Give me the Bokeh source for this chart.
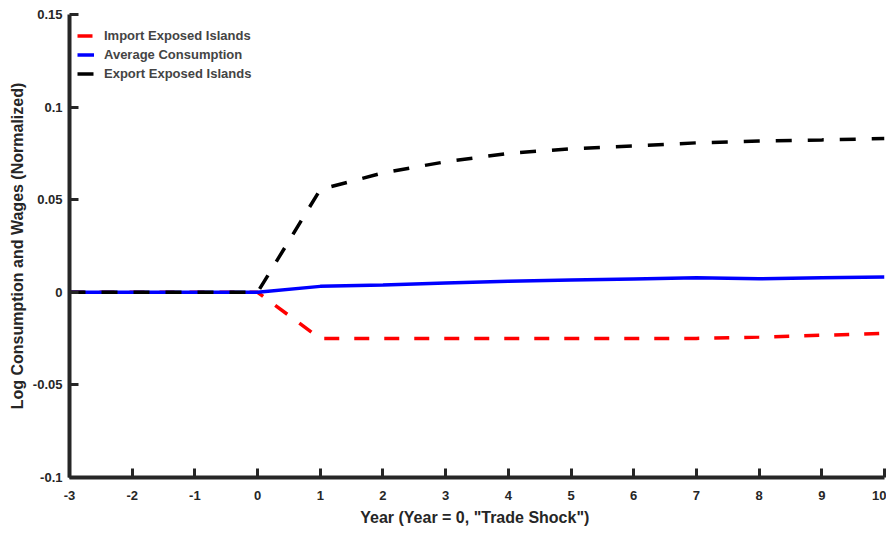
from bokeh.plotting import figure
from bokeh.models import Range1d, FixedTicker, Legend, LegendItem
from bokeh.embed import file_html
from bokeh.resources import INLINE

years = [-3, -2, -1, 0, 1, 2, 3, 4, 5, 6, 7, 8, 9, 10]
import_exposed = [0, 0, 0, 0, -0.025, -0.025, -0.025, -0.025, -0.025, -0.025, -0.0249, -0.0242, -0.0232, -0.0222]
average_cons = [0, 0, 0, 0, 0.0032, 0.0040, 0.0050, 0.0059, 0.0066, 0.0072, 0.0078, 0.0073, 0.0078, 0.0083]
export_exposed = [0, 0, 0, 0, 0.0555, 0.0645, 0.0705, 0.0750, 0.0775, 0.0790, 0.0807, 0.0817, 0.0823, 0.0830]

x_ticks = list(range(-3, 11))
x_tick_labels = [str(v) for v in x_ticks]
y_ticks = [-0.1, -0.05, 0, 0.05, 0.1, 0.15]
y_tick_labels = ["-0.1", "-0.05", "0", "0.05", "0.1", "0.15"]

FONT = "Liberation Sans"
AX = "#262626"

p = figure(width=886, height=528, output_backend="svg", toolbar_location=None,
           x_range=Range1d(-3, 10), y_range=Range1d(-0.1, 0.15),
           min_border_left=69, min_border_right=2, min_border_top=14, min_border_bottom=46)
p.outline_line_color = None
p.xgrid.visible = False
p.ygrid.visible = False

r_imp = p.line(years, import_exposed, line_color="#ff0000", line_width=3.5, line_dash="15 15")
r_avg = p.line(years, average_cons, line_color="#0000ff", line_width=3.5)
r_exp = p.line(years, export_exposed, line_color="#000000", line_width=3.5, line_dash="16 16")

for ax in (p.xaxis[0], p.yaxis[0]):
    ax.axis_line_width = 4
    ax.axis_line_color = AX
    ax.major_tick_line_width = 3
    ax.major_tick_line_color = AX
    ax.major_tick_in = 9
    ax.major_tick_out = 0
    ax.minor_tick_line_color = None
    ax.major_label_text_font = FONT
    ax.major_label_text_font_style = "bold"
    ax.major_label_text_font_size = "13px"
    ax.major_label_text_color = AX
    ax.axis_label_text_font = FONT
    ax.axis_label_text_font_style = "bold"
    ax.axis_label_text_font_size = "16px"
    ax.axis_label_text_color = AX

p.xaxis.ticker = FixedTicker(ticks=x_ticks)
p.yaxis.ticker = FixedTicker(ticks=y_ticks)
p.xaxis.major_label_overrides = {t: l for t, l in zip(x_ticks, x_tick_labels)}
p.yaxis.major_label_overrides = {t: l for t, l in zip(y_ticks, y_tick_labels)}
p.xaxis.axis_label = 'Year  (Year = 0, "Trade Shock")'
p.yaxis.axis_label = "Log Consumption and Wages (Normalized)"
p.xaxis.major_label_standoff = 13
p.yaxis.major_label_standoff = 7
p.xaxis.axis_label_standoff = 6
p.yaxis.axis_label_standoff = 4

legend = Legend(items=[
    LegendItem(label="Import Exposed Islands", renderers=[r_imp]),
    LegendItem(label="Average Consumption", renderers=[r_avg]),
    LegendItem(label="Export Exposed Islands", renderers=[r_exp]),
], location=(8, 394))
legend.border_line_color = None
legend.background_fill_alpha = 0
legend.label_text_font = FONT
legend.label_text_font_style = "bold"
legend.label_text_font_size = "13px"
legend.glyph_width = 17
legend.glyph_height = 19
legend.label_standoff = 10
legend.spacing = 0
legend.padding = 4
legend.margin = 0
legend.label_height = 19
p.add_layout(legend)

open("out.html", "w").write(file_html(p, INLINE))
